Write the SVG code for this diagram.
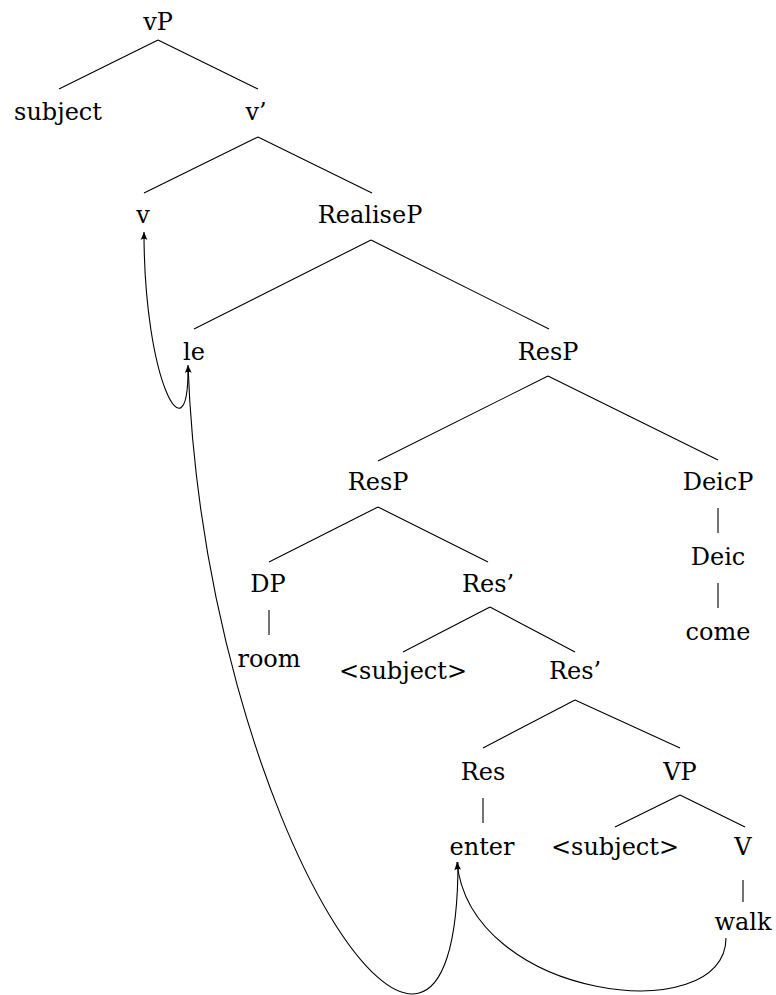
<svg xmlns="http://www.w3.org/2000/svg" width="776" height="995" viewBox="0 0 776 995">
<style>
text{font-family:"DejaVu Serif","Liberation Serif",serif;font-size:24px;fill:#000;text-anchor:middle}
.e line{stroke:#000;stroke-width:1.1}
.m path{fill:none;stroke:#000;stroke-width:1.1}
</style>
<defs>
<marker id="ah" markerUnits="userSpaceOnUse" viewBox="-9 -5 10 10" refX="0" refY="0" markerWidth="10" markerHeight="10" orient="auto">
<path d="M0,0 L-8,-3.4 Q-5.5,0 -8,3.4 Z" fill="#000"/>
</marker>
</defs>
<rect width="776" height="995" fill="#fff"/>
<g id="connectors" class="e">
<line x1="158" y1="40" x2="59" y2="89"/>
<line x1="158" y1="40" x2="258" y2="89"/>
<line x1="258" y1="137" x2="144" y2="193"/>
<line x1="258" y1="137" x2="372" y2="193"/>
<line x1="371" y1="240" x2="194" y2="329"/>
<line x1="371" y1="240" x2="549" y2="329"/>
<line x1="548" y1="376" x2="378" y2="461"/>
<line x1="548" y1="376" x2="718" y2="460"/>
<line x1="718" y1="508" x2="718" y2="533"/>
<line x1="718" y1="583" x2="718" y2="608"/>
<line x1="378" y1="507" x2="269" y2="562"/>
<line x1="378" y1="507" x2="488" y2="562"/>
<line x1="269" y1="610" x2="269" y2="635"/>
<line x1="490" y1="607" x2="403" y2="652"/>
<line x1="490" y1="607" x2="575" y2="652"/>
<line x1="575" y1="700" x2="483" y2="748"/>
<line x1="575" y1="700" x2="680" y2="748"/>
<line x1="483" y1="798" x2="483" y2="823"/>
<line x1="680" y1="795" x2="615" y2="827"/>
<line x1="680" y1="795" x2="745" y2="827"/>
<line x1="743" y1="880" x2="743" y2="902"/>
</g>
<g id="movement" class="m">
<path d="M188,370 C188,460 144,382 144,232" marker-end="url(#ah)"/>
<path d="M458,862 C458,1203 205,828 188,365" marker-end="url(#ah)"/>
<path d="M726,938 C726,1030 470,1000 457,862" marker-end="url(#ah)"/>
</g>
<g id="n-vP"><text x="158" y="30">vP</text></g>
<g id="n-subject"><text x="58" y="120">subject</text></g>
<g id="n-vbar"><text x="256" y="120">v’</text></g>
<g id="n-v"><text x="143" y="223">v</text></g>
<g id="n-RealiseP"><text x="370" y="223">RealiseP</text></g>
<g id="n-le"><text x="194" y="360">le</text></g>
<g id="n-ResP1"><text x="548" y="360">ResP</text></g>
<g id="n-ResP2"><text x="378" y="490">ResP</text></g>
<g id="n-DeicP"><text x="718" y="490">DeicP</text></g>
<g id="n-Deic"><text x="718" y="565">Deic</text></g>
<g id="n-come"><text x="718" y="640">come</text></g>
<g id="n-DP"><text x="268" y="592">DP</text></g>
<g id="n-Resbar1"><text x="488" y="592">Res’</text></g>
<g id="n-room"><text x="269" y="667">room</text></g>
<g id="n-subj1"><text x="403" y="679">&lt;subject&gt;</text></g>
<g id="n-Resbar2"><text x="575" y="679">Res’</text></g>
<g id="n-Res"><text x="483" y="780">Res</text></g>
<g id="n-VP"><text x="680" y="780">VP</text></g>
<g id="n-enter"><text x="482" y="855">enter</text></g>
<g id="n-subj2"><text x="615" y="855">&lt;subject&gt;</text></g>
<g id="n-V"><text x="743" y="855">V</text></g>
<g id="n-walk"><text x="743" y="930">walk</text></g>
</svg>
